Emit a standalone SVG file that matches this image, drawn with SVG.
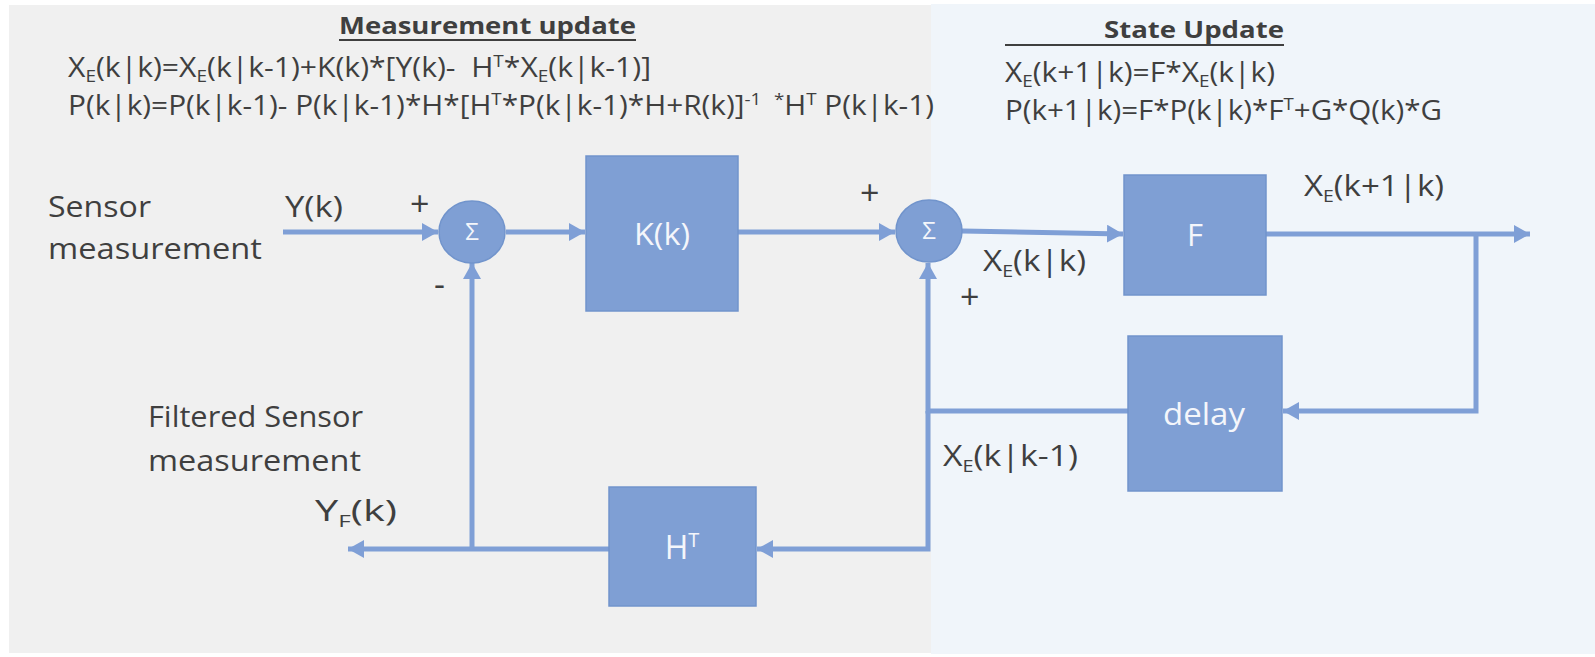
<svg xmlns="http://www.w3.org/2000/svg" width="1595" height="657" viewBox="0 0 1595 657">
  <style>
    .txt { font-family: "Open Sans", "Liberation Sans", sans-serif; fill: #3f3f3f; }
    .eq { font-size: 27px; }
    .lbl { font-size: 29px; }
    .sign { font-family: "Open Sans", "Liberation Sans", sans-serif; fill: #3f3f3f; font-size: 34px; }
    .head { font-family: "Open Sans", "Liberation Sans", sans-serif; font-weight: bold; font-size: 24px; fill: #3f3f3f; }
    .sub { font-size: 17px; }
    .box { fill: #7f9fd4; stroke: #7194cc; stroke-width: 1.5; }
    .inner { font-family: "Open Sans", "Liberation Sans", sans-serif; fill: #f4f6fb; text-anchor: middle; }
    .wire { fill: none; stroke: #7f9fd6; stroke-width: 5; }
    .uline { stroke: #3f3f3f; stroke-width: 2; }
  </style>
  <defs>
    <marker id="arrow" markerUnits="userSpaceOnUse" markerWidth="16" markerHeight="18" refX="16" refY="9" orient="auto">
      <path d="M0,0 L16,9 L0,18 z" fill="#7f9fd6"/>
    </marker>
  </defs>

  <!-- background panels -->
  <rect x="9" y="5" width="922" height="648" fill="#f0f0f0"/>
  <rect x="931" y="4" width="664" height="650" fill="#f0f5fa"/>

  <!-- measurement update equations -->
  <g id="measurement-update">
    <text class="head" x="339" y="34" textLength="297" lengthAdjust="spacingAndGlyphs">Measurement  update</text>
    <line class="uline" x1="339" y1="40" x2="636" y2="40"/>
    <text class="txt eq" x="68" y="77" xml:space="preserve" textLength="583" lengthAdjust="spacingAndGlyphs">X<tspan class="sub" dy="5">E</tspan><tspan dy="-5">(k|k)=X</tspan><tspan class="sub" dy="5">E</tspan><tspan dy="-5">(k|k-1)+K(k)*[Y(k)-  H</tspan><tspan class="sub" dy="-10">T</tspan><tspan dy="10">*X</tspan><tspan class="sub" dy="5">E</tspan><tspan dy="-5">(k|k-1)]</tspan></text>
    <text class="txt eq" x="68" y="115" xml:space="preserve" textLength="866" lengthAdjust="spacingAndGlyphs">P(k|k)=P(k|k-1)- P(k|k-1)*H*[H<tspan class="sub" dy="-10">T</tspan><tspan dy="10">*P(k|k-1)*H+R(k)]</tspan><tspan class="sub" dy="-10">-1 </tspan><tspan dy="10"> </tspan><tspan class="sub" dy="-10">*</tspan><tspan dy="10">H</tspan><tspan class="sub" dy="-10">T</tspan><tspan dy="10"> P(k|k-1)</tspan></text>
  </g>

  <!-- state update equations -->
  <g id="state-update">
    <text class="head" x="1104" y="38" textLength="180" lengthAdjust="spacingAndGlyphs">State Update</text>
    <line class="uline" x1="1005" y1="45" x2="1284" y2="45"/>
    <text class="txt eq" x="1005" y="82" textLength="270" lengthAdjust="spacingAndGlyphs">X<tspan class="sub" dy="5">E</tspan><tspan dy="-5">(k+1|k)=F*X</tspan><tspan class="sub" dy="5">E</tspan><tspan dy="-5">(k|k)</tspan></text>
    <text class="txt eq" x="1005" y="120" textLength="437" lengthAdjust="spacingAndGlyphs">P(k+1|k)=F*P(k|k)*F<tspan class="sub" dy="-10">T</tspan><tspan dy="10">+G*Q(k)*G</tspan></text>
  </g>

  <!-- connectors -->
  <g id="connectors">
    <path class="wire" d="M283,232 H438" marker-end="url(#arrow)"/>
    <path class="wire" d="M506,232 H585" marker-end="url(#arrow)"/>
    <path class="wire" d="M737,232 H895" marker-end="url(#arrow)"/>
    <path class="wire" d="M962,231 L1123,234" marker-end="url(#arrow)"/>
    <path class="wire" d="M1266,234 H1530" marker-end="url(#arrow)"/>
    <path class="wire" d="M1476,234 V411 H1283" marker-end="url(#arrow)"/>
    <path class="wire" d="M1128,411 H928 V263" marker-end="url(#arrow)"/>
    <path class="wire" d="M928,411 V549 H757" marker-end="url(#arrow)"/>
    <path class="wire" d="M609,549 H348" marker-end="url(#arrow)"/>
    <path class="wire" d="M472,549 V263" marker-end="url(#arrow)"/>
  </g>

  <!-- summing junctions -->
  <g id="sum1">
    <ellipse class="box" cx="472" cy="232" rx="33" ry="31"/>
    <text class="inner" x="472" y="240" font-size="24">Σ</text>
  </g>
  <g id="sum2">
    <ellipse class="box" cx="929" cy="231" rx="33" ry="31"/>
    <text class="inner" x="929" y="239" font-size="24">Σ</text>
  </g>

  <!-- blocks -->
  <g id="gain-k">
    <rect class="box" x="586" y="156" width="152" height="155"/>
    <text class="inner" x="662" y="245" font-size="31" textLength="56" lengthAdjust="spacingAndGlyphs">K(k)</text>
  </g>
  <g id="state-f">
    <rect class="box" x="1124" y="175" width="142" height="120"/>
    <text class="inner" x="1195" y="246" font-size="31">F</text>
  </g>
  <g id="delay">
    <rect class="box" x="1128" y="336" width="154" height="155"/>
    <text class="inner" x="1204" y="425" font-size="31" textLength="82" lengthAdjust="spacingAndGlyphs">delay</text>
  </g>
  <g id="output-h">
    <rect class="box" x="609" y="487" width="147" height="119"/>
    <text class="inner" x="682" y="559" font-size="32">H<tspan font-size="20" dy="-12">T</tspan></text>
  </g>

  <!-- signal labels -->
  <g id="labels">
    <text class="txt lbl" x="48" y="217" textLength="103" lengthAdjust="spacingAndGlyphs">Sensor</text>
    <text class="txt lbl" x="48" y="259" textLength="214" lengthAdjust="spacingAndGlyphs">measurement</text>
    <text class="txt lbl" x="285" y="217" textLength="58" lengthAdjust="spacingAndGlyphs">Y(k)</text>
    <text class="sign" x="410" y="216">+</text>
    <text class="sign" x="434" y="296">-</text>
    <text class="sign" x="860" y="205">+</text>
    <text class="sign" x="960" y="309">+</text>
    <text class="txt lbl" x="983" y="271" textLength="103" lengthAdjust="spacingAndGlyphs">X<tspan class="sub" dy="6">E</tspan><tspan dy="-6">(k|k)</tspan></text>
    <text class="txt lbl" x="1304" y="196" textLength="140" lengthAdjust="spacingAndGlyphs">X<tspan class="sub" dy="6">E</tspan><tspan dy="-6">(k+1|k)</tspan></text>
    <text class="txt lbl" x="148" y="427" textLength="215" lengthAdjust="spacingAndGlyphs">Filtered Sensor</text>
    <text class="txt lbl" x="148" y="471" textLength="213" lengthAdjust="spacingAndGlyphs">measurement</text>
    <text class="txt lbl" x="315" y="521" textLength="82" lengthAdjust="spacingAndGlyphs">Y<tspan class="sub" dy="6">F</tspan><tspan dy="-6">(k)</tspan></text>
    <text class="txt lbl" x="943" y="466" textLength="135" lengthAdjust="spacingAndGlyphs">X<tspan class="sub" dy="6">E</tspan><tspan dy="-6">(k|k-1)</tspan></text>
  </g>
</svg>
